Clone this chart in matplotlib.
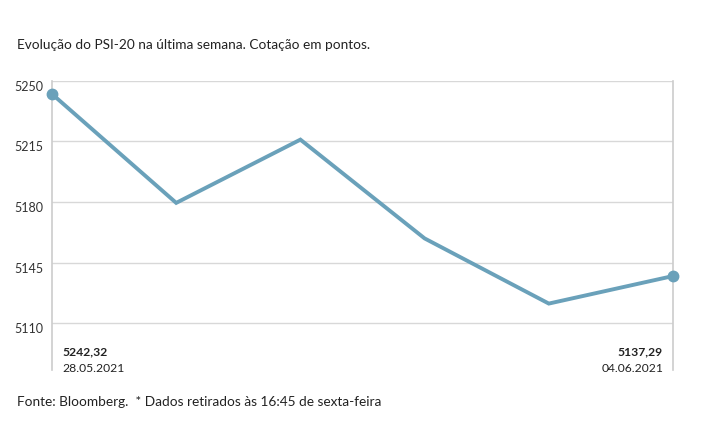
import matplotlib
matplotlib.use('Agg')
import matplotlib.pyplot as plt
import matplotlib.transforms as mtransforms

# data
dias = [0, 1, 2, 3, 4, 5]
cotacao = [5242.32, 5179.5, 5216.0, 5159.0, 5121.4, 5137.29]
yticks = [5110, 5145, 5180, 5215, 5250]

cor = '#6aa1ba'
plt.rcParams['font.family'] = ['Lato', 'DejaVu Sans']

fig = plt.figure(figsize=[7.15, 4.45], dpi=100)
ax = fig.add_axes([52/715, 1-370/445, (673-52)/715, (370-80.7)/445])

ax.set_xlim(0, 5)
ax.set_ylim(5110 - 46.7/60.7*35, 5250)
ax.set_yticks(yticks)
ax.set_yticklabels([str(v) for v in yticks], fontsize=9, color='#333333')
ax.set_xticks([])
ax.tick_params(axis='y', length=0, pad=6)
# labels sit a little below their gridline
offset = mtransforms.ScaledTranslation(0, -0.05, fig.dpi_scale_trans)
for lbl in ax.get_yticklabels():
    lbl.set_transform(lbl.get_transform() + offset)
ax.grid(True, axis='y', color='#d8d8d8', linewidth=1)
ax.set_axisbelow(True)
for s in ['top', 'bottom']:
    ax.spines[s].set_visible(False)
for s in ['left', 'right']:
    ax.spines[s].set_color('#cccccc')
    ax.spines[s].set_linewidth(1.2)

ax.plot(dias, cotacao, color=cor, linewidth=2.8, solid_joinstyle='miter', clip_on=False, zorder=3)
ax.plot([dias[0], dias[-1]], [cotacao[0], cotacao[-1]], 'o', color=cor, markersize=7.5, clip_on=False, zorder=4)

# labels at ends
def fmt(v):
    return '{:.2f}'.format(v).replace('.', ',')

fig.text(62/715, 1-352/445, fmt(cotacao[0]), fontsize=8.7, fontweight='bold', color='#222222', va='center', ha='left')
fig.text(62/715, 1-368/445, '28.05.2021', fontsize=8.7, color='#222222', va='center', ha='left')
fig.text(663/715, 1-352/445, fmt(cotacao[-1]), fontsize=8.7, fontweight='bold', color='#222222', va='center', ha='right')
fig.text(663/715, 1-368/445, '04.06.2021', fontsize=8.7, color='#222222', va='center', ha='right')

fig.text(17/715, 1-45/445, 'Evolução do PSI-20 na última semana. Cotação em pontos.', fontsize=9.8, color='#222222', va='center', ha='left')
fig.text(17/715, 1-402/445, 'Fonte: Bloomberg.  * Dados retirados às 16:45 de sexta-feira', fontsize=9.8, color='#222222', va='center', ha='left')

fig.savefig('out.png', dpi=100)
